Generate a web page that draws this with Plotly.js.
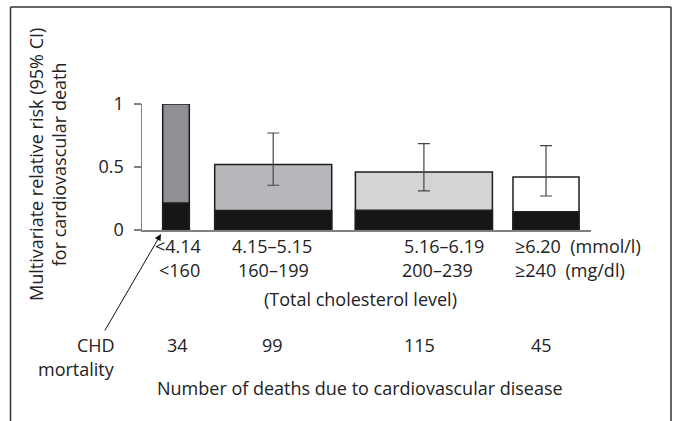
<!DOCTYPE html>
<html>
<head>
<meta charset="utf-8">
<script src="https://cdn.plot.ly/plotly-3.0.1.min.js"></script>
<style>html,body{margin:0;padding:0;background:#fff;}#chart{width:679px;height:421px;}</style>
</head>
<body>
<div id="chart"></div>
<script>
// ---- data ----
const mmolLabels = ["<4.14", "4.15–5.15", "5.16–6.19", "≥6.20  (mmol/l)"];
const mgdlLabels = ["<160", "160–199", "200–239", "≥240  (mg/dl)"];
const relativeRisk = [1.0, 0.52, 0.46, 0.42];
const ciLower = [null, 0.355, 0.31, 0.27];
const ciUpper = [null, 0.77, 0.685, 0.67];
const chdPortion = [0.215, 0.155, 0.157, 0.145];
const cvdDeaths = [34, 99, 115, 45];
const yTicks = [0, 0.5, 1];

// ---- layout constants (positions/sizes/styles) ----
const barCenter = [34, 131.2, 281.9, 404];
const barWidth = [26.6, 117, 137, 66];
const fillColors = ["#8f9094", "#b6b7ba", "#d3d4d6", "#ffffff"];
const mmolX = [36, 130, 302, 371];
const mgdlX = [37, 131, 295, 371];
const labelAnchor = ["center", "center", "center", "left"];
const countX = [35, 130, 277, 399];

const FONT = "Open Sans, Noto Sans, sans-serif";
const FS = 18;
const ML = 142, MR = 88, MT = 104, MB = 191, W = 679, H = 421;
const plotW = W - ML - MR, plotH = H - MT - MB;
const pxX = px => (px - ML) / plotW;
const pxY = py => (H - MB - py) / plotH;

const errPlus = relativeRisk.map((v, i) => ciUpper[i] == null ? 0 : ciUpper[i] - v);
const errMinus = relativeRisk.map((v, i) => ciLower[i] == null ? 0 : v - ciLower[i]);

const traces = [
  {
    type: "bar", x: barCenter, y: relativeRisk, width: barWidth,
    marker: {color: fillColors, line: {color: "#1e1e1e", width: 1.5}},
    error_y: {type: "data", array: errPlus, arrayminus: errMinus, visible: true,
      color: "#444", thickness: 1.2, width: 6},
    cliponaxis: false, hoverinfo: "skip"
  },
  {
    type: "bar", x: barCenter, y: chdPortion, width: barWidth,
    marker: {color: "#161616", line: {color: "#1e1e1e", width: 1.5}},
    cliponaxis: false, hoverinfo: "skip"
  }
];

const ann = [];
const txt = (text, x, xref, py, xanchor) => ({
  text, x, xref, y: pxY(py), yref: "paper", xanchor: xanchor || "center", yanchor: "middle",
  showarrow: false, font: {family: FONT, size: FS, color: "#222"}
});
mmolLabels.forEach((t, i) => ann.push(txt(t, mmolX[i], "x", 246, labelAnchor[i])));
mgdlLabels.forEach((t, i) => ann.push(txt(t, mgdlX[i], "x", 270, labelAnchor[i])));
ann.push(txt("(Total cholesterol level)", pxX(360), "paper", 299));
cvdDeaths.forEach((v, i) => ann.push(txt(String(v), countX[i], "x", 345)));
ann.push(txt("CHD", pxX(117), "paper", 345, "right"));
ann.push(txt("mortality", pxX(117), "paper", 369, "right"));
ann.push(txt("Number of deaths due to cardiovascular disease", pxX(360), "paper", 388));
// y-axis title (two rotated lines)
ann.push({
  text: "Multivariate relative risk (95% CI)<br>for cardiovascular death",
  x: pxX(47), xref: "paper", y: pxY(165), yref: "paper", textangle: -90,
  xanchor: "center", yanchor: "middle", showarrow: false,
  font: {family: FONT, size: FS, color: "#222"}
});
// arrow from "CHD mortality" to the black part of first bar
ann.push({
  x: pxX(161), xref: "paper", y: pxY(234), yref: "paper",
  ax: 104 - 161, ay: 332 - 234, axref: "pixel", ayref: "pixel",
  text: "", showarrow: true, arrowhead: 2, arrowsize: 1.3, arrowwidth: 1, arrowcolor: "#111"
});

const frameColor = "#333";
const shapes = [
  {type: "line", xref: "paper", yref: "paper", x0: pxX(10.5), x1: pxX(10.5), y0: pxY(7), y1: pxY(425), line: {color: frameColor, width: 1.5}},
  {type: "line", xref: "paper", yref: "paper", x0: pxX(10.5), x1: pxX(671), y0: pxY(7), y1: pxY(7), line: {color: frameColor, width: 1.5}},
  {type: "line", xref: "paper", yref: "paper", x0: pxX(671), x1: pxX(671), y0: pxY(7), y1: pxY(425), line: {color: frameColor, width: 1.5}}
];

const layout = {
  width: W, height: H,
  margin: {l: ML, r: MR, t: MT, b: MB, pad: 0},
  paper_bgcolor: "#fff", plot_bgcolor: "#fff",
  barmode: "overlay", showlegend: false,
  font: {family: FONT, size: FS, color: "#222"},
  xaxis: {range: [0, plotW], showline: true, linecolor: "#808080", linewidth: 1.5,
    showticklabels: false, ticks: "", showgrid: false, zeroline: false, fixedrange: true},
  yaxis: {range: [0, 1], showline: true, linecolor: "#808080", linewidth: 1.5,
    tickvals: yTicks, ticktext: yTicks.map(String), ticks: "outside", ticklen: 7, tickwidth: 1.5,
    tickcolor: "#808080", ticklabelstandoff: 6, showgrid: false, zeroline: false, fixedrange: true,
    tickfont: {family: FONT, size: FS, color: "#222"}},
  annotations: ann, shapes: shapes
};

Plotly.newPlot("chart", traces, layout, {displayModeBar: false, staticPlot: true});
</script>
</body>
</html>
